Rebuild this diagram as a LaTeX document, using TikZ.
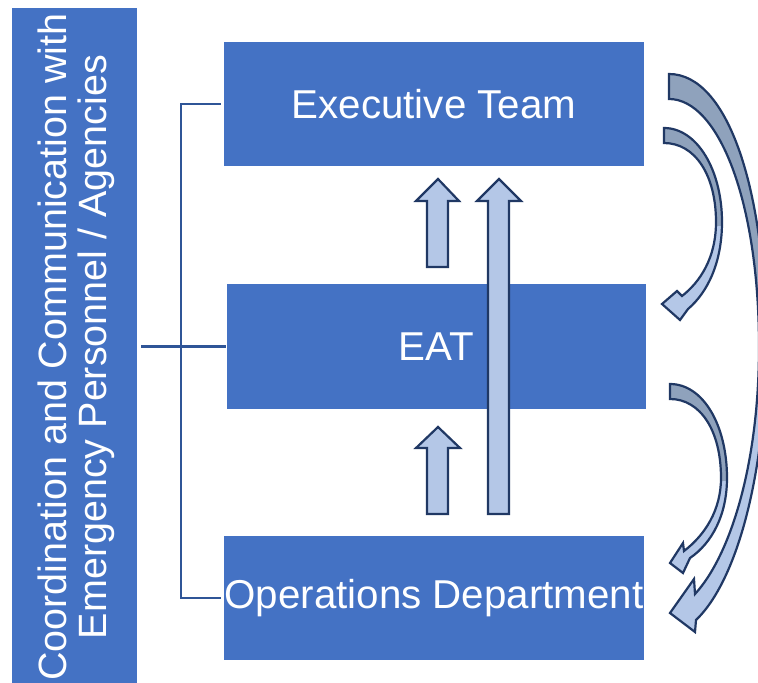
\documentclass[tikz,border=0pt]{standalone}
\usepackage{fontspec}
\setmainfont{Liberation Sans}
\usetikzlibrary{calc}

\definecolor{boxblue}{HTML}{4472C4}
\definecolor{linkblue}{HTML}{2F5597}
\definecolor{arrowfill}{HTML}{B4C7E7}
\definecolor{arrowshade}{HTML}{8FA2BC}
\definecolor{arrowedge}{HTML}{203864}

% curved ribbon arrow: light face, darker back face above the given y, dark outline
\newcommand\ribbonarrow[2]{%
  \fill[arrowfill] #1;
  \begin{scope}
    \clip (600,0) rectangle (800,#2);
    \fill[arrowshade] #1;
  \end{scope}
  \draw[arrowedge, line width=2.2pt, line join=miter] #1;
}

\begin{document}
\begin{tikzpicture}[x=1pt, y=-1pt,
  level/.style={fill=boxblue, text=white, inner sep=0pt,
    font=\fontsize{40.3}{42}\selectfont},
  sidebar/.style={fill=boxblue, inner sep=0pt},
  link/.style={draw=linkblue, line width=2.2pt},
  blockarrow/.style={fill=arrowfill, draw=arrowedge, line width=2.2pt, line join=miter}
]
\useasboundingbox (0,0) rectangle (758,683);
\clip (0,0) rectangle (758,683);
\fill[white] (0,0) rectangle (758,683);

% side panel
\node[sidebar, minimum width=125pt, minimum height=684pt] (side) at (74.5,350) {};
\node[rotate=90, text=white, align=center, inner sep=0pt,
  font=\fontsize{39.5}{40}\selectfont] (sidetext) at (76.5,347)
  {Coordination and Communication with\\Emergency Personnel / Agencies};

% levels
\node[level, minimum width=420pt, minimum height=124pt] (exec) at (434,104) {Executive Team};
\node[level, minimum width=419pt, minimum height=125pt] (eat) at (436.5,346.5) {EAT};
\node[level, minimum width=420pt, minimum height=124pt] (ops) at (434,598) {Operations Department};

% bracket from the side panel to the levels
\coordinate (spinetop) at (181,104);
\coordinate (spinebot) at (181,598);
\draw[link] ([xshift=-3pt]exec.west) -- (spinetop) -- (spinebot) -- ([xshift=-3pt]ops.west);
\draw[link] ([xshift=4pt]side.east |- eat.west) -- ([xshift=-1pt]eat.west);

% upward block arrows
\draw[blockarrow] (427,267) -- (427,201) -- (416,201) -- (438,179) -- (459,201)
  -- (448,201) -- (448,267) -- cycle;
\draw[blockarrow] (488,514) -- (488,201) -- (477,201) -- (499,179) -- (521,201)
  -- (509,201) -- (509,514) -- cycle;
\draw[blockarrow] (427,514) -- (427,448) -- (416,448) -- (438,427) -- (460,448)
  -- (448,448) -- (448,514) -- cycle;

% downward curved arrows on the right
\ribbonarrow{(669,74) .. controls (728,74) and (766,190) .. (766,347)
  .. controls (766,470) and (738,580) .. (696,620) -- (695,632) -- (670,613)
  -- (694,579) -- (695,594) .. controls (730,556) and (759,465) .. (759,347)
  .. controls (759,200) and (718,99) .. (669,99) -- cycle}{347}
\ribbonarrow{(664,128) .. controls (697,128) and (722,170) .. (722,222)
  .. controls (722,262) and (708,292) .. (688,309) -- (680,320) -- (662,304)
  -- (677,291) -- (682,296) .. controls (700,282) and (716,258) .. (716,222)
  .. controls (716,175) and (695,143) .. (664,143) -- cycle}{225}
\ribbonarrow{(670,384) .. controls (703,384) and (727,425) .. (727,478)
  .. controls (727,515) and (712,543) .. (690,558) -- (683,573) -- (670,563)
  -- (683,543) -- (684,551) .. controls (705,535) and (721,510) .. (721,478)
  .. controls (721,430) and (700,399) .. (670,399) -- cycle}{480}
\end{tikzpicture}
\end{document}
